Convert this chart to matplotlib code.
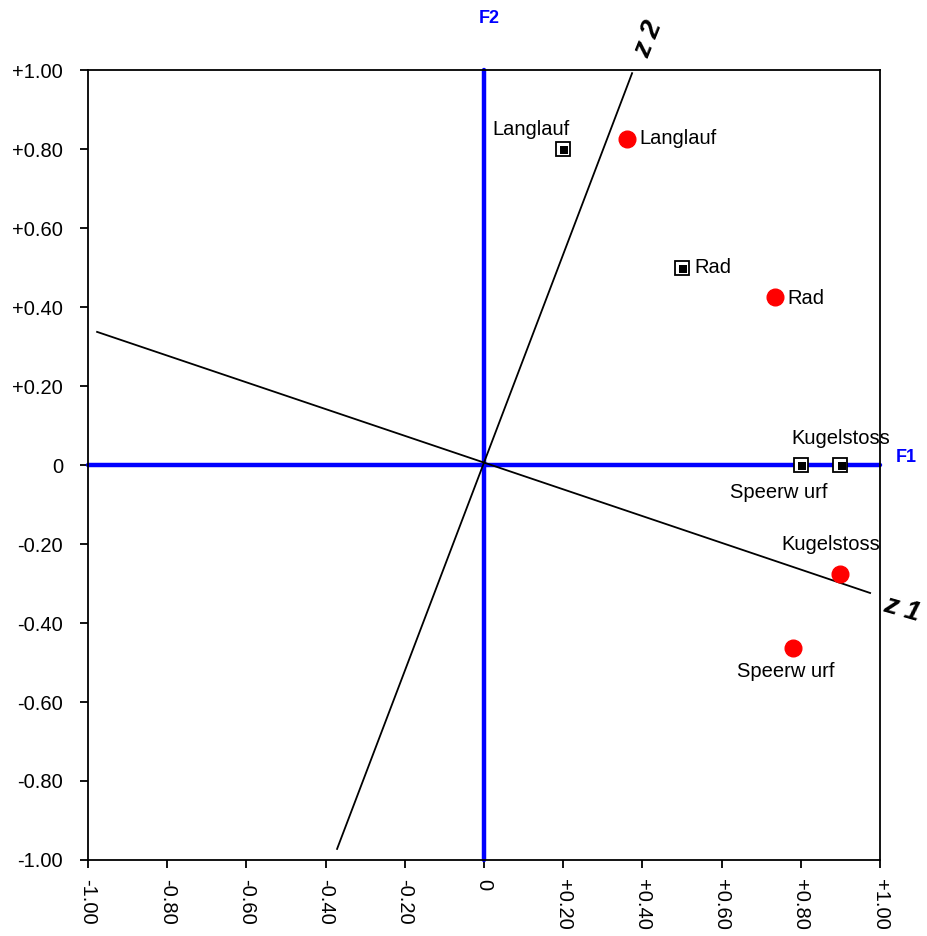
import matplotlib
matplotlib.use("Agg")
import matplotlib.pyplot as plt
import matplotlib.transforms as mtransforms

plt.rcParams["font.family"] = ["Liberation Sans", "DejaVu Sans"]

BLUE = "#0000ff"
RED = "#ff0000"

# loadings on the original factors F1/F2 (squares)
F_NAMES = ["Langlauf", "Rad", "Kugelstoss", "Speerw urf"]
F_X = [0.20, 0.50, 0.90, 0.80]
F_Y = [0.80, 0.50, 0.00, 0.00]

# loadings after rotation (red dots)
Z_NAMES = ["Langlauf", "Rad", "Kugelstoss", "Speerw urf"]
Z_X = [0.36, 0.735, 0.90, 0.78]
Z_Y = [0.826, 0.425, -0.276, -0.463]

# rotated axes z1 / z2 (end points)
Z1_X = [-0.977, 0.975]
Z1_Y = [0.337, -0.324]
Z2_X = [-0.371, 0.374]
Z2_Y = [-0.972, 0.992]

TICKS = [-1.0, -0.8, -0.6, -0.4, -0.2, 0.0, 0.2, 0.4, 0.6, 0.8, 1.0]


def fmt(v):
    if abs(v) < 1e-9:
        return "0"
    return f"{v:+.2f}"


fig = plt.figure(figsize=(9.27, 9.36), dpi=100)
ax = fig.add_axes([0.0949, 0.0812, 0.8544, 0.844])
ax.set_xlim(-1.0, 1.0)
ax.set_ylim(-1.0, 1.0)

for s in ax.spines.values():
    s.set_linewidth(1.3)
ax.set_xticks(TICKS)
ax.set_yticks(TICKS)
ax.set_xticklabels([fmt(t) for t in TICKS], rotation=270, fontsize=14.5)
ax.set_yticklabels([fmt(t) for t in TICKS], fontsize=14.5)
ax.tick_params(direction="out", length=6, width=1.3)
ax.tick_params(axis="x", pad=8)
ax.tick_params(axis="y", pad=12)

# original factor axes
ax.plot([-1, 1], [0, 0], color=BLUE, lw=3.2, solid_capstyle="round", zorder=2, clip_on=False)
ax.plot([0, 0], [-1, 1], color=BLUE, lw=3.2, solid_capstyle="round", zorder=2, clip_on=False)
ax.text(1.04, 0.02, "F1", color=BLUE, fontsize=13, fontweight="bold", ha="left", va="center",
        clip_on=False)
ax.text(0.013, 1.13, "F2", color=BLUE, fontsize=13, fontweight="bold", ha="center", va="center",
        clip_on=False)

# rotated axes
ax.plot(Z1_X, Z1_Y, color="black", lw=1.3, zorder=3)
ax.plot(Z2_X, Z2_Y, color="black", lw=1.3, zorder=3)
ax.text(1.055, -0.365, "z 1", fontsize=20, fontweight="bold", fontstyle="italic",
        rotation=-16, ha="center", va="center", clip_on=False)
ax.text(0.415, 1.078, "z 2", fontsize=20, fontweight="bold", fontstyle="italic",
        rotation=68, ha="center", va="center", clip_on=False)

# squares: white box with offset black fill
ax.plot(F_X, F_Y, ls="none", marker="s", ms=10, mfc="white", mec="black", mew=1.3, zorder=5)
shift = mtransforms.offset_copy(ax.transData, fig=fig, x=0.9, y=-0.9, units="points")
ax.plot(F_X, F_Y, ls="none", marker="s", ms=6.2, mfc="black", mec="black", mew=0,
        zorder=6, transform=shift)

# red dots
ax.plot(Z_X, Z_Y, ls="none", marker="o", ms=12, mfc=RED, mec=RED, zorder=5)

F_OFF = [(-23, 14), (9, 0), (0, 19), (-16, -20)]
F_HA = ["center", "left", "center", "center"]
for i, name in enumerate(F_NAMES):
    ax.annotate(name, (F_X[i], F_Y[i]), xytext=F_OFF[i], textcoords="offset points",
                ha=F_HA[i], va="center", fontsize=14.5)

Z_OFF = [(9, 0), (9, -1), (-7, 21), (-5, -17)]
Z_HA = ["left", "left", "center", "center"]
for i, name in enumerate(Z_NAMES):
    ax.annotate(name, (Z_X[i], Z_Y[i]), xytext=Z_OFF[i], textcoords="offset points",
                ha=Z_HA[i], va="center", fontsize=14.5)

fig.savefig("out.png", dpi=100, facecolor="white")
